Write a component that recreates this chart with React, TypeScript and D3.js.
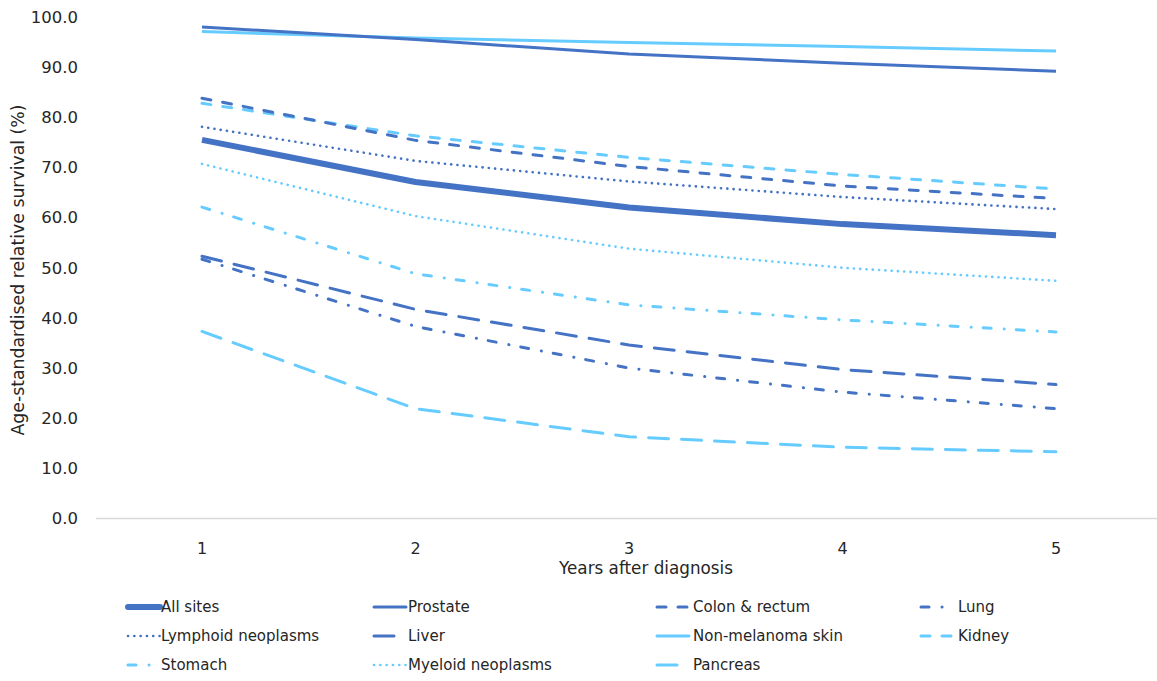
import React from "react";
import * as d3 from "d3";

const years = [1, 2, 3, 4, 5];
const yTicks = [0, 10, 20, 30, 40, 50, 60, 70, 80, 90, 100];

const allSites = [75.5, 67.1, 62.0, 58.7, 56.5];
const prostate = [98.0, 95.5, 92.6, 90.8, 89.2];
const colonRectum = [83.8, 75.4, 70.2, 66.3, 63.8];
const lung = [51.7, 38.3, 30.0, 25.2, 21.9];
const lymphoid = [78.1, 71.3, 67.2, 64.1, 61.7];
const liver = [52.3, 41.7, 34.6, 29.7, 26.7];
const skin = [97.1, 95.8, 94.9, 94.1, 93.2];
const kidney = [82.8, 76.3, 72.0, 68.6, 65.7];
const stomach = [62.1, 48.8, 42.6, 39.6, 37.2];
const myeloid = [70.7, 60.3, 53.8, 50.0, 47.4];
const pancreas = [37.3, 21.9, 16.3, 14.2, 13.3];

const DARK = "#4472C4";
const LIGHT = "#66CCFF";

type S = { name: string; values: number[]; color: string; width: number; dash: string | null };

const series: S[] = [
  { name: "All sites", values: allSites, color: DARK, width: 6, dash: null },
  { name: "Prostate", values: prostate, color: DARK, width: 3, dash: null },
  { name: "Colon & rectum", values: colonRectum, color: DARK, width: 3, dash: "9 12" },
  { name: "Lung", values: lung, color: DARK, width: 3, dash: "8 13 0.1 12" },
  { name: "Lymphoid neoplasms", values: lymphoid, color: DARK, width: 2.6, dash: "0.1 6.2" },
  { name: "Liver", values: liver, color: DARK, width: 3, dash: "20 13" },
  { name: "Non-melanoma skin", values: skin, color: LIGHT, width: 3, dash: null },
  { name: "Kidney", values: kidney, color: LIGHT, width: 3, dash: "9 12" },
  { name: "Stomach", values: stomach, color: LIGHT, width: 3, dash: "8 13 0.1 12" },
  { name: "Myeloid neoplasms", values: myeloid, color: LIGHT, width: 2.6, dash: "0.1 6.2" },
  { name: "Pancreas", values: pancreas, color: LIGHT, width: 3, dash: "20 13" },
];

const W = 1157;
const H = 681;
const FONT = "'DejaVu Sans', sans-serif";

export default function App() {
  const x = d3.scalePoint<number>().domain(years).range([202, 1056]);
  const y = d3.scaleLinear().domain([0, 100]).range([518.5, 17]);
  const line = d3
    .line<number>()
    .x((_, i) => x(years[i]) as number)
    .y((d) => y(d))
    .curve(d3.curveLinear);

  const legendColX = [127, 373, 656, 920];
  const legendTextOff = [34, 35, 37, 38];
  const legendRowY = [607, 636, 665];

  const drawOrder = [...series].reverse();

  return (
    <svg
      width={W}
      height={H}
      style={{ position: "absolute", left: 0, top: 0, background: "#fff" }}
      fontFamily={FONT}
    >
      <rect x={0} y={0} width={W} height={H} fill="#fff" />
      <line x1={96} x2={W} y1={y(0)} y2={y(0)} stroke="#d9d9d9" strokeWidth={1.5} />
      {yTicks.map((t) => (
        <text key={t} x={78} y={y(t)} dy="0.35em" textAnchor="end" fontSize={16.5} fill="#262626">
          {t.toFixed(1)}
        </text>
      ))}
      {years.map((yr) => (
        <text key={yr} x={x(yr)} y={548} dy="0.35em" textAnchor="middle" fontSize={16} fill="#262626">
          {yr}
        </text>
      ))}
      <text x={646} y={568} dy="0.35em" textAnchor="middle" fontSize={16.8} fill="#262626">
        Years after diagnosis
      </text>
      <text
        transform={`translate(18,270) rotate(-90)`}
        textAnchor="middle"
        dy="0.35em"
        fontSize={17.3}
        fill="#262626"
      >
        Age-standardised relative survival (%)
      </text>
      {drawOrder.map((s) => (
        <path
          key={s.name}
          d={line(s.values) || ""}
          fill="none"
          stroke={s.color}
          strokeWidth={s.width}
          strokeDasharray={s.dash || undefined}
          strokeLinecap={s.dash ? "round" : "butt"}
          strokeLinejoin="round"
        />
      ))}
      {series.map((s, i) => {
        const col = i % 4;
        const row = Math.floor(i / 4);
        const lx = legendColX[col];
        const ly = legendRowY[row];
        return (
          <g key={s.name}>
            <line
              x1={lx + 1}
              x2={lx + 33}
              y1={ly}
              y2={ly}
              stroke={s.color}
              strokeWidth={s.width}
              strokeDasharray={s.dash || undefined}
              strokeLinecap="round"
            />
            <text x={lx + legendTextOff[col]} y={ly} dy="0.35em" fontSize={15} fill="#262626">
              {s.name}
            </text>
          </g>
        );
      })}
    </svg>
  );
}
